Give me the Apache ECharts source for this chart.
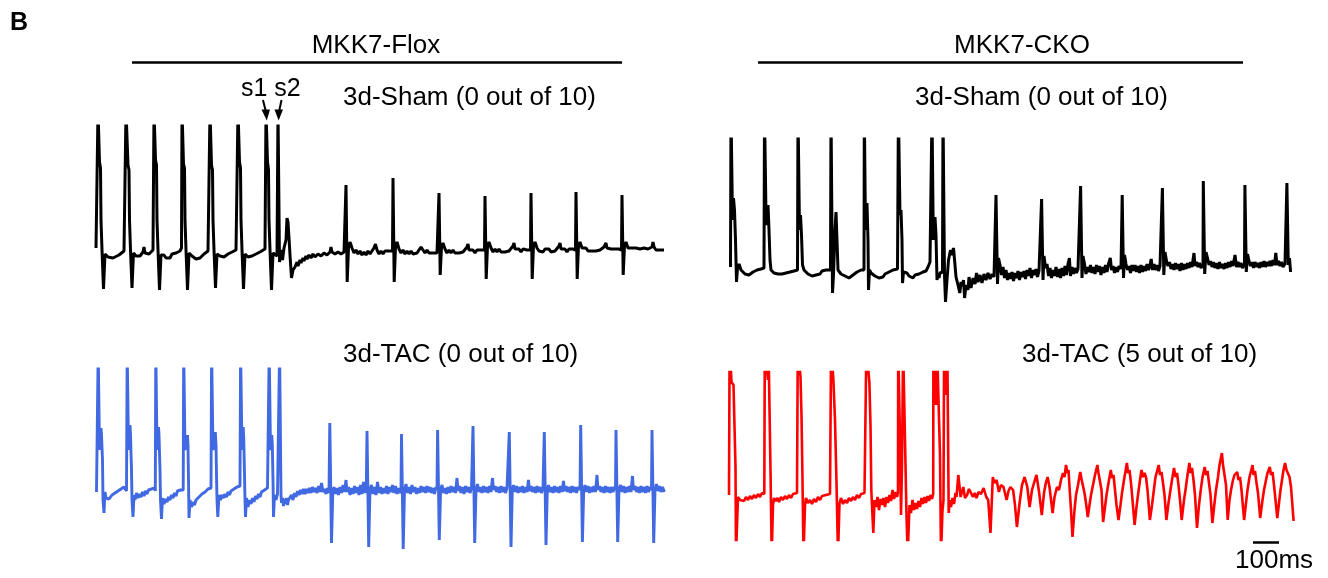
<!DOCTYPE html>
<html><head><meta charset="utf-8">
<script src="https://cdn.jsdelivr.net/npm/echarts@6/dist/echarts.min.js"></script>
<style>html,body{margin:0;padding:0;background:#fff}#c{width:1328px;height:578px}</style>
</head><body><div id="c"></div>
<script>
// time in samples (1 sample = 100/26 ms), amplitude in arbitrary units (relative to baseline)
const msPerSample = 100 / 26;
const scaleBarMs = 100;
const scaleBarStart = 525;

const floxSham = [
[0,2],[1.5,2],[2,140],[3,140],[3.5,88],[4.5,82],[5,30],[6,0],[7.5,-39],[9,-4],[12,-7],[17,-8],[23,-5],[28,-1],[29.5,1],
[30,140],[31,140],[32,85],[33,80],[33.5,30],[34.5,0],[36,-38],[37.5,-3],[40,-6],[44,-6],[47,-2],[48,3],[49,-3],[53,-4],[57,0],[57.5,1],
[58,140],[59,140],[59.5,90],[60.5,85],[61,30],[62,0],[63.5,-40],[65,-5],[68,-5],[70,-8],[72,-6],[74,-8],[76,-4],[80,-3],[84,-1],[85.5,2],
[86,140],[87,140],[87.5,86],[88.5,82],[89,30],[90,0],[91.5,-40],[93,-3],[96,-6],[100,-9],[104,-8],[108,-4],[112,-1],[113.5,1],
[114,140],[115,140],[115.5,85],[116.5,80],[117,30],[118,0],[119.5,-38],[121,-4],[124,-6],[128,-7],[132,-4],[136,-2],[140,0],[141.5,1],
[142,140],[143,140],[143.5,88],[144.5,82],[145,30],[146,0],[147.5,-39],[149,-4],[152,-7],[156,-6],[160,-4],[164,-2],[169,1],[169.5,2],
[170,140],[171,140],[171.5,88],[172.5,80],[173,30],[174,0],[175.5,-40],[177,-3],[179,-5],[181,-6],
[182,140],[183,140],[183.5,-12],[185,0],[186.5,-10],[188,2],[190,10],[191,32],[192,28],[193,12],[194,-5],[195.5,-28],[197,-20],[199,-17],
[201,-12],[202,-16],[204,-10],[205,-13],[207,-8],[208,-11],[210,-6],[211,-9],[213,-5],[215,-8],[217,-4],[219,-7],[222,-4],[225,-6],[228,-3],[231,-5],[234,-2],[235,3],[236,-2],[239,-4],[242,-2],[245,-4],[248,-2],[249.5,-1],
[250,65],[250.8,65],[251.2,-32],[252,-32],[252.5,2],[254,8],[256,2],[258,-3],[260,0],[262,-4],[264,-1],[266,-5],[268,-2],[270,-5],[272,-1],[274,-4],[276,-2],[278,2],[279.5,6],[281,0],[283,-4],[285,-1],[287,-4],[289,-1],[291,-3],[293,-1],[295,-3],[296.5,-1],
[297,72],[297.8,72],[298.2,-32],[299,-32],[299.5,3],[301,8],[303,1],[305,-3],[307,0],[309,-4],[311,-1],[313,-4],[315,-1],[317,-4],[319,-2],[321,-3],[323,0],[325,3],[326,5],[327,0],[329,-3],[331,0],[333,-3],[335,-1],[337,-3],[339,-1],[341,-3],[342.5,-1],
[343,57],[343.8,57],[344.2,-25],[345,-25],[345.5,3],[347,7],[349,1],[351,-3],[353,0],[355,-3],[357,0],[359,-3],[361,-1],[363,-3],[365,-1],[367,-2],[369,0],[371,3],[372,6],[373,0],[375,-2],[377,0],[379,-3],[381,0],[383,-2],[385,0],[387,-2],[388.5,0],
[389,54],[389.8,54],[390.2,-29],[391,-29],[391.5,4],[393,8],[395,2],[397,-2],[399,1],[401,-2],[403,1],[405,-2],[407,0],[409,-2],[411,0],[413,-1],[415,1],[417,4],[418,7],[419,1],[421,-1],[423,1],[425,-2],[427,1],[429,-1],[431,0],[433,-2],[434.5,0],
[435,57],[435.8,57],[436.2,-29],[437,-29],[437.5,4],[439,8],[441,2],[443,-1],[445,1],[447,-2],[449,1],[451,-1],[453,1],[455,-2],[457,0],[459,-1],[461,1],[463,4],[464,7],[465,1],[467,-1],[469,1],[471,-2],[473,1],[475,-1],[477,1],[479,-1],[479.5,0],
[480,58],[480.8,58],[481.2,-29],[482,-29],[482.5,4],[484,8],[486,2],[488,0],[490,2],[492,-1],[494,1],[496,-1],[498,1],[500,-1],[502,1],[504,0],[506,1],[508,3],[510,7],[511,2],[513,0],[515,1],[517,-1],[519,1],[521,0],[523,1],[525,-1],[525.5,0],
[526,55],[526.8,55],[527.2,-25],[528,-25],[528.5,4],[530,8],[532,2],[534,0],[536,2],[538,0],[540,2],[542,0],[544,1],[546,-1],[548,2],[550,0],[552,1],[554,0],[556,3],[557,8],[558,3],[560,0],[562,2],[564,0],[566,1],[568,0]
];

const ckoSham = [
[2.5,3],[3,160],[4,160],[4.5,50],[5.5,72],[6.5,60],[7.5,30],[8.5,-12],[9.5,2],[11,6],[13,0],[15,-2],[17,-4],[19,-3],[21,-5],[23,-3],[25,-2],[27,-1],[29,0],[31,-1],[33,1],[35,2],[36,2],
[36.5,160],[37.5,160],[38,55],[39,45],[40,65],[41,40],[42,10],[43,0],[44,-1],[46,-3],[48,-2],[50,-4],[52,-6],[54,-4],[56,-5],[58,-3],[60,-4],[62,-2],[64,-3],[66,-1],[68,-1],[69.5,0],
[70,160],[71,160],[71.5,40],[72.5,55],[73.5,35],[74.5,5],[76,0],[78,-2],[80,-4],[82,-3],[84,-6],[86,-4],[88,-5],[90,-3],[92,-4],[94,-1],[96,-2],[98,0],[100,-1],[102.5,0],
[103,160],[104,160],[104.5,-23],[105.5,-5],[107,40],[108,58],[109,30],[110,0],[111,-1],[113,-4],[115,-3],[117,-6],[119,-5],[121,-8],[123,-6],[125,-5],[127,-6],[129,-2],[131,-3],[133,0],[135,-1],[136,0],
[136.3,160],[137,160],[137.5,40],[139,67],[140,30],[140.5,-20],[141.5,0],[143,-3],[145,-2],[147,-6],[149,-4],[151,-8],[153,-6],[155,-7],[157,-4],[159,-5],[161,-2],[163,-3],[165,0],[167,2],[169.5,1],
[170.4,160],[171.2,160],[172,55],[173,60],[174,30],[174.5,-13],[175.5,-2],[177,-4],[179,-3],[181,-6],[183,-5],[185,-8],[187,-5],[189,-7],[191,-4],[193,-5],[195,-2],[197,-3],[198,-1],[200,3],[202,8],[203.5,10],
[204,160],[204.8,160],[205.3,30],[206,45],[207,53],[208,35],[209,-10],[210,-5],[211,-8],[212,-3],[214.5,-2],
[215,160],[216,160],[216.5,-5],[217.5,-32],[219,-10],[220.5,10],[222.5,20],[224,15],[225.5,22],[227,5],[228,-7],[230,-15],[231.8,-23],[233,-12],[234.4,-16],[235.5,-10],[236.6,-28],[238,-15],[240,-20],[241,-7],[243,-18],[245,-8],[247,-14],[248.5,-3],[250,-12],[252,-5],[254,-13],[256,-4],[258,-10],[260,-3],[262,-9],[264,-4],[266,-7],[267.5,-5],
[268,75],[269,75],[269.5,-14],[270.5,12],[272,5],[273.5,-5],[275,3],[276.5,-8],[278,0],[279.5,-10],[281,-3],[282.5,-9],[284,-2],[285.5,-11],[287,-3],[288.5,-8],[290,-1],[291.5,-10],[293,-2],[294.5,-7],[296,-1],[297.5,-9],[299,0],[300.5,-6],[302,2],[303.5,-8],[305,0],[306.5,-5],[308,1],[309.5,-7],[311,-1],[312.5,-3],
[313.6,71],[314.4,71],[315,-10],[316,14],[317.5,2],[319,6],[320.5,-6],[322,2],[323.5,-8],[325,0],[326.5,-6],[328,3],[329.5,-7],[331,1],[332.5,-8],[334,2],[335.5,-6],[337,4],[338.5,-5],[340,6],[341.4,12],[342.5,-6],[344,3],[345.5,-4],[347,2],[348.5,-3],[350,1],[352,-1],
[352.6,84],[353.4,84],[354,-8],[355,14],[356.5,6],[358,-4],[359.5,3],[361,-2],[362.5,5],[364,-3],[365.5,3],[367,-4],[368.5,5],[370,-2],[371.5,4],[373,-5],[374.5,3],[376,-3],[377.5,5],[379,-2],[380.5,6],[382.3,12],[383.5,0],[385,4],[386.5,-3],[388,3],[389.5,-2],[391,4],[393,1],
[394.2,75],[395,75],[395.5,-8],[396.5,15],[398,6],[399.5,0],[401,4],[402.5,-3],[404,5],[405.5,-1],[407,5],[408.5,-2],[410,4],[411.5,-3],[413,5],[414.5,-2],[416,4],[417.5,-1],[419,6],[420.5,0],[422,5],[423.2,11],[424.5,0],[426,6],[427.5,0],[429,5],[430.5,-1],[432,4],[434,2],
[434.4,82],[435.2,82],[435.8,-5],[437,18],[438.5,9],[440,4],[441.5,8],[443,1],[444.5,6],[446,0],[447.5,7],[449,1],[450.5,6],[452,-1],[453.5,7],[455,0],[456.5,6],[458,1],[459.5,7],[461,2],[462.5,8],[464,3],[466,17],[467,4],[468.5,8],[470,3],[471.5,7],[473,2],[475,5],
[475.3,89],[476.1,89],[476.7,-4],[478,18],[479.5,12],[481,5],[482.5,9],[484,3],[485.5,8],[487,2],[488.5,7],[490,1],[491.5,8],[493,2],[494.5,6],[496,1],[497.5,7],[499,2],[500.5,8],[502,3],[503.5,9],[505,4],[507,15],[508.5,3],[510,8],[511.5,3],[513,7],[514.5,2],[516.5,6],
[516.9,85],[517.7,85],[518.3,-2],[519.5,16],[521,9],[522.5,4],[524,8],[525.5,2],[527,8],[528.5,3],[530,7],[531.5,2],[533,8],[534.5,3],[536,9],[537.5,3],[539,8],[540.5,4],[542,9],[543.5,4],[545,10],[546.5,5],[547.8,17],[549,5],[550.5,9],[552,4],[553.5,8],[555,3],[557,6],[558.5,4],
[558.9,87],[559.7,87],[560.3,5],[561.5,12],[562.6,-2]
];

const floxTac = [
[0.5,-2],[1.7,-2],[2.2,140],[3,140],[3.5,40],[5,62],[5.5,55],[6.5,30],[7,-10],[8,-23],[9,-2],[10,-8],[11.5,-6],[13,-9],[14.5,-7],[16,-5],[17.5,-6],[19,-3],[20.5,-4],[22,-1],[23.5,-2],[25,1],[26.5,0],[28,3],[29.5,1],[30.5,-1],
[31.2,140],[32,140],[32.5,40],[34,65],[34.5,55],[35.5,20],[36,-10],[37,-27],[38,-5],[39,-10],[40.5,-3],[42,-8],[43.5,-4],[45,-7],[46.5,-2],[48,-6],[49.5,-1],[51,-4],[52.5,0],[54,-2],[55.5,1],[57,0],[58.5,2],[59.3,-1],
[59.8,140],[60.6,140],[61,40],[62.5,63],[63,55],[64,20],[64.5,-10],[65.5,-29],[66.5,-8],[68,-14],[69.5,-9],[71,-12],[72.5,-7],[74,-10],[75.5,-5],[77,-8],[78.5,-3],[80,-6],[81.5,-1],[83,-3],[84.5,0],[86,2],[87.2,0],
[87.7,140],[88.5,140],[89,40],[91.5,55],[92,45],[92.5,10],[93,-28],[94,-10],[95.5,-17],[97,-12],[98.5,-15],[100,-10],[101.5,-12],[103,-7],[104.5,-9],[106,-4],[107.5,-6],[109,-2],[110.5,-3],[112,1],[113.5,0],[115,2],
[115.6,140],[116.4,140],[117,40],[119.3,58],[120,45],[120.5,15],[121,-10],[121.8,-27],[123,-5],[124.5,-10],[126,-5],[127.5,-8],[129,-4],[130.5,-7],[132,-2],[133.5,-5],[135,-1],[136.5,-3],[138,1],[139.5,-1],[141,3],[142.5,1],[144,4],
[144.6,140],[145.4,140],[146,40],[147.2,63],[147.8,50],[148.5,15],[149,-10],[149.5,-27],[150.5,-8],[152,-17],[153.5,-10],[155,-14],[156.5,-8],[158,-12],[159.5,-6],[161,-9],[162.5,-4],[164,-7],[165.5,-2],[167,-4],[168.5,0],[170,-2],[171.5,2],[172.7,0],
[173.2,140],[174,140],[174.5,40],[175.8,55],[176.3,45],[177,10],[177.5,-27],[178.5,-5],[180,-10],[181.5,-4],[183,-3],
[183.6,140],[184.4,140],[185,-5],[185.5,-13],[186.5,-8],[187.5,-16],[188.5,-9],[189.5,-14],[190.5,-8],[191.5,-15],[192.5,-10],[194,-12],[195.5,-5],[197,-10],[198.5,-3],[200,-7],[201.5,-1],[203,-5],[204.5,0],[206,-4],[207.5,1],[209,-4],[210.5,1],[212,-3],[213.5,2],[215,-3],[216.5,3],[218,-2],[219.5,2],[221,-3],[222.5,4],[224,-2],[225.5,7],[227,-2],[228.5,1],[230,-4],[231.5,2],[233,-3],
[233.8,67],[234.4,67],[235.5,-53],[236.2,-53],[236.8,-2],[238,3],[239.5,-4],[241,2],[242.5,-5],[244,3],[245.5,-3],[247,5],[248.5,-2],[250,10],[251,-2],[252.5,3],[254,-5],[255.5,2],[257,-4],[258.5,4],[260,-3],[261.5,3],[263,-5],[264.5,5],[266,-4],[267.5,8],[269,-3],[270.3,2],
[271,59],[271.6,59],[272.7,-57],[273.4,-57],[274,0],[275.5,5],[277,-4],[278.5,3],[280,-5],[281.5,8],[283,-3],[284.5,3],[286,-4],[287.5,2],[289,-3],[290.5,4],[292,-4],[293.5,3],[295,-2],[296.5,5],[298,-3],[299.5,4],[301,-4],[302.5,2],[304,-3],[305,1],
[305.5,56],[306.1,56],[307.2,-59],[307.9,-59],[308.5,0],[310,6],[311.5,-3],[313,3],[314.5,-4],[316,5],[317.5,-2],[319,3],[320.5,-4],[322,2],[323.5,-3],[325,4],[326.5,-2],[328,3],[329.5,-3],[331,4],[332.5,-2],[334,3],[335.5,-3],[337,2],[338.5,-4],[340,3],[341,0],
[341.6,60],[342.2,60],[343.3,-50],[344,-50],[344.6,0],[346,5],[347.5,-3],[349,2],[350.5,-4],[352,3],[353.5,-3],[355,4],[356.5,-2],[358,3],[359.5,-3],[361,12],[362,-1],[363.5,4],[365,-3],[366.5,3],[368,-4],[369.5,4],[371,-2],[372.5,3],[374,-3],[375.5,2],[376.5,0],
[377,64],[377.6,64],[378.7,-53],[379.4,-53],[380,0],[381.5,6],[383,-2],[384.5,3],[386,-3],[387.5,4],[389,-2],[390.5,3],[392,-3],[393.5,4],[395,-2],[396.5,12],[397.5,0],[399,4],[400.5,-2],[402,3],[403.5,-3],[405,4],[406.5,-2],[408,3],[409.5,-3],[411,2],[412.7,0],
[413.3,58],[413.9,58],[415,-57],[415.7,-57],[416.3,0],[417.5,5],[419,-2],[420.5,4],[422,-3],[423.5,3],[425,-2],[426.5,4],[428,-3],[429.5,3],[431,-2],[432.5,10],[433.5,-1],[435,4],[436.5,-2],[438,3],[439.5,-3],[441,4],[442.5,-2],[444,3],[445.5,-3],[447,2],[447.8,0],
[448.3,58],[448.9,58],[450,-55],[450.7,-55],[451.3,0],[452.5,5],[454,-2],[455.5,3],[457,-3],[458.5,4],[460,-2],[461.5,3],[463,-3],[464.5,4],[466,-2],[467.5,9],[468.5,-1],[470,4],[471.5,-2],[473,3],[474.5,-3],[476,4],[477.5,-2],[479,3],[480.5,-3],[482,3],[484,0],
[484.7,65],[485.3,65],[486.4,-52],[487.1,-52],[487.7,0],[489,5],[490.5,-2],[492,4],[493.5,-3],[495,3],[496.5,-2],[498,4],[499.5,-2],[501,15],[502,0],[503.5,4],[505,-2],[506.5,3],[508,-3],[509.5,4],[511,-2],[512.5,3],[514,-3],[515.5,3],[517,-2],[518.5,3],[519.5,0],
[520,60],[520.6,60],[521.7,-52],[522.4,-52],[523,0],[524.5,5],[526,-2],[527.5,4],[529,-3],[530.5,3],[532,-2],[533.5,4],[535,-2],[536.5,14],[537.5,0],[539,4],[540.5,-2],[542,3],[543.5,-3],[545,4],[546.5,-2],[548,3],[549.5,-3],[551,4],[552.5,-2],[554,3],[555.5,0],
[556,60],[556.6,60],[557.7,-53],[558.4,-53],[559,0],[560.5,6],[562,-1],[563.5,4],[565,-2],[566.5,3],[568.4,-2]
];

const ckoTac = [
[1,0],[1.3,0],[1.6,150],[2.8,150],[3.5,113],[5.5,110],[7.5,28],[8,-60],[9,-60],[10,-2],[12,-5],[14,-3],[16,-6],[18,-2],[20,-5],[22,-1],[24,-4],[26,0],[28,-3],[30,1],[32,-2],[34,2],[36.3,1],
[36.8,150],[38.5,150],[39.9,115],[40.5,150],[41.5,150],[42.6,18],[43.7,-60],[44.5,-60],[45,-10],[46,-3],[47.6,-6],[49.5,-3],[51,-7],[53,-2],[55,-5],[57,-1],[59,-4],[61,0],[63,-3],[65,1],[67,-1],[69,2],[69.5,0],
[69.8,150],[71.5,150],[72.5,118],[73.5,80],[74.4,22],[75.5,-60],[76.3,-60],[77,-10],[78,-3],[80,-8],[82,-5],[84,-9],[86,-4],[88,-7],[90,-2],[92,-5],[94,-1],[96,-3],[98,0],[100,-2],[102,1],[103,0],
[103.1,150],[104.5,150],[105.4,115],[107,75],[108.5,12],[110,-60],[110.8,-60],[111.5,-8],[113,-3],[115,-9],[117,-5],[119,-8],[121,-3],[123,-6],[125,-2],[127,-5],[129,0],[131,-3],[133,1],[135,-1],[136.5,2],[138.2,1],
[138.4,150],[140,150],[141.4,112],[142.5,70],[143.3,5],[145.3,-38],[146.5,-5],[148,-12],[149.5,-2],[151,-15],[152.5,-4],[154,-10],[155.5,-3],[157,-12],[158.5,-2],[160,-8],[161.5,0],[163,-6],[164.5,5],[166,-4],[167.5,3],[169,-2],[170,2],
[170.2,150],[171.5,150],[172.3,40],[173,-20],[174,30],[175.1,150],[176.5,150],[177.4,35],[178.5,-20],[179.7,-60],[180.5,-60],[181.5,-10],[183,-18],[184.5,-5],[186,-15],[187.5,-8],[189,-14],[190.5,-6],[192,-12],[193.5,-3],[195,-9],[196.5,-2],[198,-8],[199.5,-1],[201,-6],[202.5,0],[204,-4],[205.2,1],
[205.4,150],[207,150],[208,90],[209,150],[211,150],[212,40],[213,-60],[213.8,-60],[214.5,-15],[215.5,-5],[216.1,150],[217.5,150],[218.5,100],[219.3,150],[220,150],[220.7,-18],[221.9,-5],[223,-12],[224.5,-3],[226,-9],[227.5,2],[228.5,-2],[230.3,20],[232.6,-2],[235.3,8],[237,-3],[239.1,0],[241,6],[243,5],[245,-2],[246.8,2],[248.5,-3],[250.6,3],[253,1],[255.6,7],[258.3,-2],[260.2,-5],[262.5,-38],[264.8,18],[266.5,12],[268.6,15],[270.9,3],[273,10],[275.5,8],[278.6,-5],[280.5,4],[282.4,8],[285.1,5],[287,-10],[288.9,-32],[291.6,-8],[294,10],[296.6,18],[299.3,8],[301.6,-12],[304,5],[306,12],[308.5,20],[311.2,2],[313.8,-20],[316,2],[317.8,12],[319.6,18],[321.5,8],[324.6,-18],
[326.5,-2],[329,8],[331,5],[333,15],[335,22],[336.5,18],[338,30],[339.5,22],[340.5,25],[341.5,8],[343,-15],[344.5,-42],[346.5,-15],[348,0],[350,10],[352.2,23],[353.5,16],[355,18],[356.5,2],[358,-8],[359.8,-22],[361.5,-10],[363,0],[365,10],[367,20],[369.4,30],[370.5,22],[372,24],[373.5,5],[375.1,-27],[377,-12],[378.5,0],[380.5,12],[382.8,25],[384,17],[385.5,20],[387,5],[388.5,-10],[390.5,-25],[392.5,-10],[394,2],[396,15],[398.9,32],[400,22],[401.5,25],[403,12],[404.5,-5],[406.6,-30],[408.5,-12],[410,0],[412,15],[413.5,25],[415,18],[416.5,22],[418,18],[419.5,5],[421.9,-25],[424,-10],[425.5,2],[427.5,18],[430.7,30],[432,20],[433.5,23],[435,12],[436.5,0],[438.4,-25],[440.5,-8],[442,2],[444,15],[446,27],[447.5,18],[449,22],[450.5,10],[452,-5],[453.7,-25],[456,-5],[457.5,5],[459.5,20],[461.4,32],[462.5,22],[464,27],[465.5,15],[467,0],[469,-33],[471,-10],[472.5,3],[474.5,18],[476.7,28],[478,20],[479.5,24],[481,12],[482.5,0],[484.4,-28],[486.5,-8],[488,5],[490,18],[491.5,30],[493.9,42],[495,30],[496.5,32],[498,10],[499.7,-25],[501.5,-5],[503,5],[505,15],[506.5,20],[509.2,23],[510.5,15],[512,18],[513.5,5],[516.1,-25],[518,-8],[519.5,5],[521.5,18],[524.6,30],[525.5,20],[527,24],[528.5,12],[530,2],[532.2,-23],[534.5,-5],[536,5],[538,15],[539.5,22],[541.8,28],[543,20],[544.5,23],[546,10],[547.5,-5],[549.3,-23],[551,-8],[552.5,5],[554,15],[555.5,25],[557.1,32],[558.5,25],[560,27],[561.5,18],[563,8],[564,-5],[565.6,-26]
];

const headers = ['MKK7-Flox', 'MKK7-CKO'];
const panelTitles = ['3d-Sham (0 out of 10)', '3d-Sham (0 out of 10)', '3d-TAC (0 out of 10)', '3d-TAC (5 out of 10)'];

const chart = echarts.init(document.getElementById('c'), null, {renderer: 'canvas'});
const FONT = '"Liberation Sans", Arial, sans-serif';

const grids = [
  {left: 96, top: 126, width: 570, height: 166},
  {left: 728, top: 139, width: 570, height: 166},
  {left: 96, top: 369, width: 570, height: 186},
  {left: 728, top: 372, width: 570, height: 168},
  {left: 728, top: 530, width: 570, height: 25}
];
const yRanges = [[-42, 124], [-35, 131], [-65, 121], [-45, 123], [-1, 1]];

function trace(i, data, color, w) {
  return {type: 'line', xAxisIndex: i, yAxisIndex: i, data: data, symbol: 'none', showSymbol: false,
    clip: true, silent: true, animation: false, lineStyle: {color: color, width: w, join: 'bevel'}};
}

function txt(x, y, s, size, align, bold) {
  return {type: 'text', x: x, y: y, silent: true,
    style: {text: s, fill: '#000', font: (bold ? 'bold ' : '') + size + 'px ' + FONT, align: align || 'left', verticalAlign: 'middle'}};
}

const option = {
  animation: false,
  backgroundColor: '#fff',
  grid: grids.map(g => Object.assign({containLabel: false, show: false}, g)),
  xAxis: grids.map((g, i) => ({type: 'value', gridIndex: i, min: 0, max: 570, show: false})),
  yAxis: grids.map((g, i) => ({type: 'value', gridIndex: i, min: yRanges[i][0], max: yRanges[i][1], show: false})),
  series: [
    trace(0, floxSham, '#000000', 3),
    trace(1, ckoSham, '#000000', 3),
    trace(2, floxTac, '#4169E1', 2.9),
    trace(3, ckoTac, '#FF0000', 2.6),
    {type: 'line', xAxisIndex: 4, yAxisIndex: 4, symbol: 'none', silent: true, animation: false,
      data: [[scaleBarStart, 0], [scaleBarStart + scaleBarMs / msPerSample, 0]],
      lineStyle: {color: '#000', width: 2.5}}
  ],
  graphic: [
    txt(10, 23, 'B', 25, 'left', true),
    txt(376, 46, headers[0], 26, 'center'),
    txt(1022, 46, headers[1], 26, 'center'),
    {type: 'line', silent: true, shape: {x1: 132, y1: 62.5, x2: 622, y2: 62.5}, style: {stroke: '#000', lineWidth: 2.5}},
    {type: 'line', silent: true, shape: {x1: 758, y1: 62.5, x2: 1243, y2: 62.5}, style: {stroke: '#000', lineWidth: 2.5}},
    txt(241, 89, 's1 s2', 25, 'left'),
    {type: 'line', silent: true, shape: {x1: 263, y1: 100, x2: 266, y2: 112}, style: {stroke: '#000', lineWidth: 2}},
    {type: 'polygon', silent: true, shape: {points: [[261.5, 109.5], [270, 109.5], [266.8, 120.5]]}, style: {fill: '#000'}},
    {type: 'line', silent: true, shape: {x1: 281.5, y1: 100, x2: 279, y2: 112}, style: {stroke: '#000', lineWidth: 2}},
    {type: 'polygon', silent: true, shape: {points: [[274.5, 109.5], [283, 109.5], [278.6, 120.5]]}, style: {fill: '#000'}},
    txt(343, 97.5, panelTitles[0], 26, 'left'),
    txt(915, 97.5, panelTitles[1], 26, 'left'),
    txt(343, 355, panelTitles[2], 26, 'left'),
    txt(1022, 355, panelTitles[3], 26, 'left'),
    txt(1235, 561, scaleBarMs + 'ms', 26, 'left')
  ]
};
chart.setOption(option);
</script>
</body></html>
